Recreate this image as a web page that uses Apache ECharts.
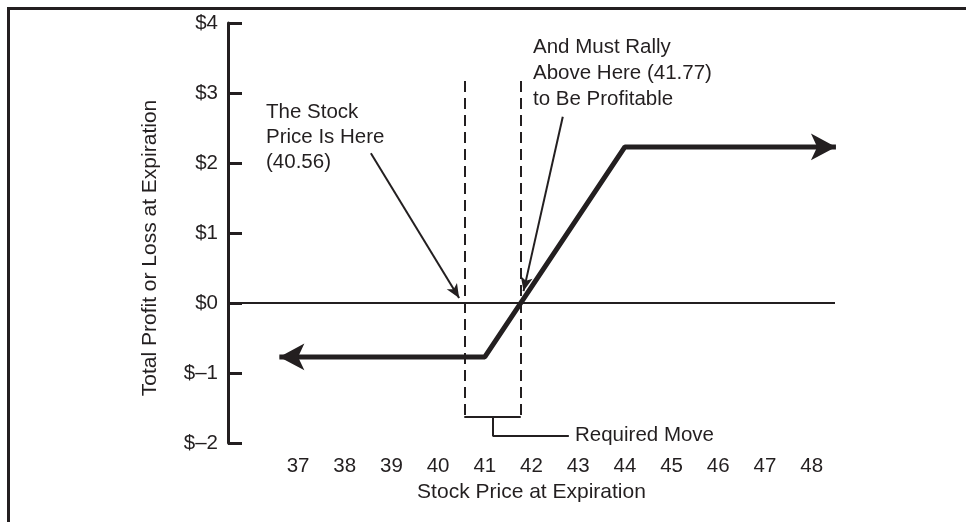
<!DOCTYPE html>
<html>
<head>
<meta charset="utf-8">
<title>Bull call spread at expiration</title>
<script src="https://cdn.jsdelivr.net/npm/echarts@6.0.0/dist/echarts.min.js"></script>
<style>
  html, body { margin: 0; padding: 0; background: #fff; }
  #chart { width: 966px; height: 522px; }
</style>
</head>
<body>
<div id="chart"></div>
<script>
// values
var priceTicks = [37, 38, 39, 40, 41, 42, 43, 44, 45, 46, 47, 48];
var profitTicks = [-2, -1, 0, 1, 2, 3, 4];
var payoffPrice = [36.6, 41, 44, 48.52];
var payoffProfit = [-0.77, -0.77, 2.23, 2.23];
var currentPrice = 40.56;
var breakEven = 41.77;
var noteStock = ['The Stock', 'Price Is Here', '(40.56)'];
var noteRally = ['And Must Rally', 'Above Here (41.77)', 'to Be Profitable'];
var noteMove = 'Required Move';

var ink = '#231f20';
var font = "'Liberation Sans', Arial, Helvetica, sans-serif";
var tickSize = 20.5;
var nameSize = 21;

var chart = echarts.init(document.getElementById('chart'));

// payoff line with arrow heads at both ends
var payoffData = payoffPrice.map(function (p, i) {
    var item = { value: [p, payoffProfit[i]], symbol: 'none' };
    if (i === 0) {
        item.symbol = 'arrow';
        item.symbolRotate = 90;
    }
    if (i === payoffPrice.length - 1) {
        item.symbol = 'arrow';
        item.symbolRotate = -90;
    }
    return item;
});

var bracketLow = -1.62;
var bracketStem = -1.9;
var bracketMid = (currentPrice + breakEven) / 2;

var dashStyle = { color: ink, width: 2, type: [11, 6] };
var pointerStyle = { color: ink, width: 2, type: 'solid' };

// a thin pointer line ending in a small arrow head
function pointer(from, to) {
    return [
        { coord: from, lineStyle: pointerStyle, symbol: 'none' },
        { coord: to, symbol: 'arrow', symbolSize: [9, 14] }
    ];
}

function plain(from, to, style) {
    return [
        { coord: from, lineStyle: style, symbol: 'none' },
        { coord: to, symbol: 'none' }
    ];
}

var option = {
    animation: false,
    backgroundColor: '#fff',
    textStyle: { fontFamily: font },
    grid: { left: 228, top: 23, width: 607, height: 420, containLabel: false },
    xAxis: {
        type: 'value',
        min: 35.5,
        max: 48.5,
        name: 'Stock Price at Expiration',
        nameLocation: 'middle',
        nameGap: 39,
        nameTextStyle: { color: ink, fontSize: nameSize, fontFamily: font },
        axisLine: { show: false },
        axisTick: { show: false },
        splitLine: { show: false },
        axisLabel: {
            customValues: priceTicks,
            color: ink,
            fontSize: tickSize,
            margin: 13,
            fontFamily: font
        }
    },
    yAxis: {
        type: 'value',
        min: -2,
        max: 4,
        interval: 1,
        axisLine: { show: true, lineStyle: { color: ink, width: 3 } },
        axisTick: { show: true, inside: true, length: 14, lineStyle: { color: ink, width: 3 } },
        splitLine: { show: false },
        axisLabel: {
            color: ink,
            fontSize: tickSize,
            margin: 10,
            fontFamily: font,
            formatter: function (v) {
                return v < 0 ? '$\u2013' + Math.abs(v) : '$' + v;
            }
        }
    },
    series: [
        {
            name: 'payoff',
            type: 'line',
            data: payoffData,
            symbolSize: [20, 25],
            clip: false,
            itemStyle: { color: ink },
            lineStyle: { color: ink, width: 5 },
            z: 5,
            markLine: {
                silent: true,
                symbol: 'none',
                label: { show: false },
                data: [
                    plain([35.5, 0], [48.5, 0], { color: ink, width: 2, type: 'solid' }),
                    plain([currentPrice, 3.17], [currentPrice, bracketLow], dashStyle),
                    plain([breakEven, 3.17], [breakEven, bracketLow], dashStyle),
                    plain([currentPrice, bracketLow], [breakEven, bracketLow], pointerStyle),
                    plain([bracketMid, bracketLow], [bracketMid, bracketStem], pointerStyle),
                    plain([bracketMid, bracketStem], [42.8, bracketStem], pointerStyle),
                    pointer([38.56, 2.14], [40.45, 0.07]),
                    pointer([42.67, 2.66], [41.83, 0.17])
                ]
            }
        }
    ],
    graphic: [
        {
            type: 'rect',
            silent: true,
            shape: { x: 8.5, y: 8.5, width: 1200, height: 800 },
            style: { fill: 'none', stroke: ink, lineWidth: 3 }
        },
        {
            type: 'text',
            x: 150,
            y: 248,
            rotation: Math.PI / 2,
            style: {
                text: 'Total Profit or Loss at Expiration',
                fill: ink,
                font: nameSize + 'px ' + font,
                textAlign: 'center',
                textVerticalAlign: 'middle'
            }
        },
        {
            type: 'text',
            left: 266,
            top: 100,
            style: { text: noteStock.join('\n'), fill: ink, font: tickSize + 'px ' + font, lineHeight: 25 }
        },
        {
            type: 'text',
            left: 533,
            top: 34,
            style: { text: noteRally.join('\n'), fill: ink, font: tickSize + 'px ' + font, lineHeight: 26 }
        },
        {
            type: 'text',
            left: 575,
            top: 425,
            style: { text: noteMove, fill: ink, font: tickSize + 'px ' + font }
        }
    ]
};

chart.setOption(option);
</script>
</body>
</html>
